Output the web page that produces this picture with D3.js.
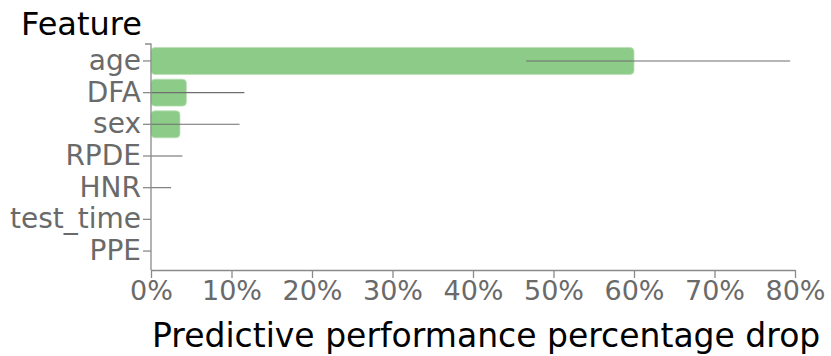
<!DOCTYPE html>
<html>
<head>
<meta charset="utf-8">
<script src="https://cdn.jsdelivr.net/npm/d3@7"></script>
<style>
  html, body { margin: 0; padding: 0; background: #fff; }
  svg { display: block; font-family: "DejaVu Sans", Verdana, sans-serif; }
</style>
</head>
<body>
<svg id="chart" width="831" height="356"></svg>
<script>
// Permutation importance: mean drop in predictive performance per feature,
// with whisker bounds.
const features = ["age", "DFA", "sex", "RPDE", "HNR", "test_time", "PPE"];
const drop     = [0.600, 0.044, 0.036, 0.000, 0.000, 0.000, 0.000];
const lower    = [0.466, 0.000, 0.000, 0.000, 0.000, 0.000, 0.000];
const upper    = [0.794, 0.116, 0.110, 0.039, 0.025, 0.000, 0.000];
const xTicks   = [0, 0.1, 0.2, 0.3, 0.4, 0.5, 0.6, 0.7, 0.8];

(function () {
  const rows = features.map((f, i) => ({ f, v: drop[i], lo: lower[i], hi: upper[i] }));

  const svg = d3.select("#chart");
  const m = { left: 151, right: 795, top: 44, bottom: 270 };

  const x = d3.scaleLinear().domain([0, 0.8]).range([m.left, m.right]);
  const y = d3.scaleBand().domain(features).range([m.top, m.bottom - 2]).paddingInner(0.15).paddingOuter(0.11);

  const axisColor = "#8a8a8a";
  const labelColor = "#6a6a6a";

  // bars
  svg.append("g").selectAll("rect").data(rows.filter(d => d.v > 0)).join("rect")
    .attr("x", x(0))
    .attr("y", d => y(d.f))
    .attr("width", d => x(d.v) - x(0))
    .attr("height", y.bandwidth())
    .attr("rx", 4).attr("ry", 4)
    .attr("fill", "#8dcb89")
    .attr("stroke", "#b9e0b6")
    .attr("stroke-width", 0.8);

  // whiskers
  svg.append("g").selectAll("line").data(rows.filter(d => d.hi > d.lo)).join("line")
    .attr("x1", d => x(d.lo))
    .attr("x2", d => x(d.hi))
    .attr("y1", d => y(d.f) + y.bandwidth() / 2)
    .attr("y2", d => y(d.f) + y.bandwidth() / 2)
    .attr("stroke", "#6f6f6f")
    .attr("stroke-width", 1.1);

  // axes
  const yAxis = svg.append("g")
    .attr("transform", `translate(${m.left},0)`)
    .call(d3.axisLeft(y).tickSize(8).tickSizeOuter(6).tickPadding(2));
  yAxis.select(".domain").attr("d", `M-6,${m.top}H0V${m.bottom}`);

  const xAxis = svg.append("g")
    .attr("transform", `translate(0,${m.bottom})`)
    .call(d3.axisBottom(x).tickValues(xTicks).tickFormat(d3.format(".0%")).tickSize(8).tickSizeOuter(0).tickPadding(3));

  [yAxis, xAxis].forEach(g => {
    g.selectAll("path, line").attr("stroke", axisColor).attr("stroke-width", 1.3);
    g.selectAll("text").attr("fill", labelColor)
      .style("font-family", '"DejaVu Sans", Verdana, sans-serif');
  });
  yAxis.selectAll("text").style("font-size", "28px");
  xAxis.selectAll("text").style("font-size", "27px");

  // titles
  svg.append("text")
    .attr("x", 21).attr("y", 35)
    .attr("fill", "#000")
    .style("font-size", "32px")
    .text("Feature");

  svg.append("text")
    .attr("x", 152).attr("y", 347)
    .attr("fill", "#000")
    .style("font-size", "33px")
    .text("Predictive performance percentage drop");
})();
</script>
</body>
</html>
